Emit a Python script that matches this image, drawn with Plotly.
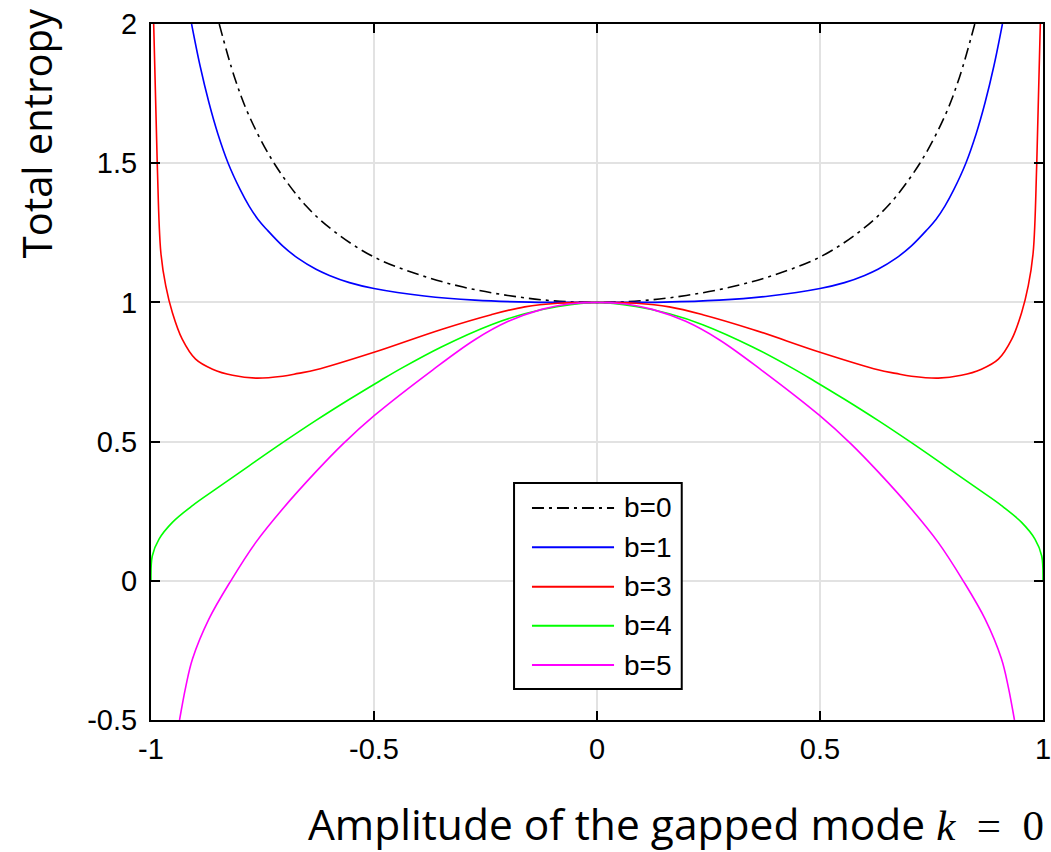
import plotly.graph_objects as go

# Total entropy versus amplitude of the gapped k = 0 mode, one curve per b
b0_x = [-0.847, -0.813, -0.78, -0.724, -0.652, -0.585, -0.5, -0.4, -0.3, -0.2, -0.1, 0.0,
        0.1, 0.2, 0.3, 0.4, 0.5, 0.585, 0.652, 0.724, 0.78, 0.813, 0.847]
b0_y = [2.0, 1.81, 1.67, 1.5, 1.346, 1.25, 1.163, 1.10, 1.055, 1.025, 1.006, 1.0,
        1.006, 1.025, 1.055, 1.10, 1.163, 1.25, 1.346, 1.5, 1.67, 1.81, 2.0]

b1_x = [-0.909, -0.89, -0.87, -0.85, -0.827, -0.8, -0.78, -0.76, -0.74, -0.705, -0.67, -0.63,
        -0.6, -0.555, -0.5, -0.387, -0.274, -0.15, 0.0,
        0.15, 0.274, 0.387, 0.5, 0.555, 0.6, 0.63, 0.67, 0.705, 0.74, 0.76, 0.78, 0.8, 0.827,
        0.85, 0.87, 0.89, 0.909]
b1_y = [2.0, 1.85, 1.717, 1.605, 1.5, 1.405, 1.346, 1.298, 1.261, 1.203, 1.158, 1.119,
        1.097, 1.071, 1.05, 1.023, 1.008, 1.001, 1.0,
        1.001, 1.008, 1.023, 1.05, 1.071, 1.097, 1.119, 1.158, 1.203, 1.261, 1.298, 1.346,
        1.405, 1.5, 1.605, 1.717, 1.85, 2.0]

b3_x = [-0.994, -0.986, -0.978, -0.967, -0.952, -0.93, -0.9, -0.862, -0.817, -0.765, -0.705,
        -0.67, -0.63, -0.5, -0.349, -0.237, -0.162, -0.088, 0.0,
        0.088, 0.162, 0.237, 0.349, 0.5, 0.63, 0.67, 0.705, 0.765, 0.817, 0.862, 0.9, 0.93,
        0.952, 0.967, 0.978, 0.986, 0.994]
b3_y = [2.0, 1.5, 1.18, 1.06, 0.963, 0.868, 0.796, 0.76, 0.738, 0.728, 0.735,
        0.745, 0.758, 0.821, 0.903, 0.956, 0.984, 0.997, 1.0,
        0.997, 0.984, 0.956, 0.903, 0.821, 0.758, 0.745, 0.735, 0.728, 0.738, 0.76, 0.796, 0.868,
        0.963, 1.06, 1.18, 1.5, 2.0]

b4_x = [-1.0, -0.997, -0.982, -0.952, -0.907, -0.855, -0.78, -0.705, -0.63, -0.555, -0.488,
        -0.439, -0.349, -0.237, -0.162, -0.087, 0.0,
        0.087, 0.162, 0.237, 0.349, 0.439, 0.488, 0.555, 0.63, 0.705, 0.78, 0.855, 0.907,
        0.952, 0.982, 0.997, 1.0]
b4_y = [0.0, 0.09, 0.15, 0.21, 0.27, 0.329, 0.413, 0.496, 0.576, 0.652, 0.717,
        0.763, 0.840, 0.920, 0.959, 0.985, 1.0,
        0.985, 0.959, 0.920, 0.840, 0.763, 0.717, 0.652, 0.576, 0.496, 0.413, 0.329, 0.27,
        0.21, 0.15, 0.09, 0.0]

b5_x = [-0.936, -0.922, -0.907, -0.87, -0.821, -0.765, -0.705, -0.63, -0.57, -0.499, -0.368,
        -0.274, -0.199, -0.124, -0.064, 0.0,
        0.064, 0.124, 0.199, 0.274, 0.368, 0.499, 0.57, 0.63, 0.705, 0.765, 0.821, 0.87,
        0.907, 0.922, 0.936]
b5_y = [-0.5, -0.38, -0.281, -0.137, 0.0, 0.138, 0.258, 0.392, 0.491, 0.594, 0.758,
        0.866, 0.932, 0.975, 0.994, 1.0,
        0.994, 0.975, 0.932, 0.866, 0.758, 0.594, 0.491, 0.392, 0.258, 0.138, 0.0, -0.137,
        -0.281, -0.38, -0.5]

series_names = ["b=0", "b=1", "b=3", "b=4", "b=5"]
series_colors = ["#000000", "#0000ff", "#ff0000", "#00ff00", "#ff00ff"]
series_dash = ["12px,5px,3px,5px", "solid", "solid", "solid", "solid"]
series_x = [b0_x, b1_x, b3_x, b4_x, b5_x]
series_y = [b0_y, b1_y, b3_y, b4_y, b5_y]

x_ticks = [-1, -0.5, 0, 0.5, 1]
x_ticktext = ["-1", "-0.5", "0", "0.5", "1"]
y_ticks = [-0.5, 0, 0.5, 1, 1.5, 2]
y_ticktext = ["-0.5", "0", "0.5", "1", "1.5", "2"]

fig = go.Figure()
for name, color, dash, xs, ys in zip(series_names, series_colors, series_dash, series_x, series_y):
    fig.add_trace(go.Scatter(
        x=xs, y=ys, mode="lines", name=name, showlegend=False,
        line=dict(color=color, width=1.6, dash=dash, shape="spline", smoothing=1.0),
    ))

# hand-built legend box with long line samples
box_x0, box_x1 = 0.407, 0.595
box_y0, box_y1 = 0.0445, 0.3405
row_y = [0.3046, 0.2481, 0.1915, 0.1355, 0.079]
shapes = [dict(type="rect", xref="paper", yref="paper", x0=box_x0, x1=box_x1,
               y0=box_y0, y1=box_y1, line=dict(color="black", width=2),
               fillcolor="white", layer="above")]
annotations = []
for name, color, dash, ry in zip(series_names, series_colors, series_dash, row_y):
    shapes.append(dict(type="line", xref="paper", yref="paper", x0=0.4271, x1=0.5191,
                       y0=ry, y1=ry, line=dict(color=color, width=2, dash=dash),
                       layer="above"))
    annotations.append(dict(xref="paper", yref="paper", x=0.528, y=ry, text=name,
                            showarrow=False, xanchor="left", yanchor="middle",
                            font=dict(family="Liberation Sans", size=28, color="black")))

annotations.append(dict(
    xref="paper", yref="paper", x=-0.129, y=0.843, text="Total entropy",
    textangle=-90, showarrow=False, xanchor="center", yanchor="middle",
    font=dict(family="Open Sans", size=40, color="black")))
annotations.append(dict(
    xref="paper", yref="paper", x=1.003, y=-0.149,
    text=("Amplitude of the gapped mode "
          "<span style='font-family:Liberation Serif;font-size:43px'>"
          "<i>k</i>&nbsp;&nbsp;=&nbsp;&nbsp;0</span>"),
    showarrow=False, xanchor="right", yanchor="middle",
    font=dict(family="Open Sans", size=42.5, color="black")))

axis_common = dict(
    showline=True, linecolor="black", linewidth=2, mirror="ticks",
    ticks="inside", ticklen=9, tickwidth=2, tickcolor="black",
    showgrid=True, gridcolor="#e2e2e2", gridwidth=2, zeroline=False,
    automargin=False, ticklabeloverflow="allow",
    tickfont=dict(family="Liberation Sans", size=29, color="black"),
)

fig.update_layout(
    width=1051, height=852,
    margin=dict(l=151, r=8, t=24, b=132),
    paper_bgcolor="white", plot_bgcolor="white",
    xaxis=dict(range=[-1, 1], tickvals=x_ticks, ticktext=x_ticktext,
               ticklabelstandoff=2, **axis_common),
    yaxis=dict(range=[-0.5, 2], tickvals=y_ticks, ticktext=y_ticktext,
               ticklabelstandoff=6, **axis_common),
    shapes=shapes, annotations=annotations,
)

fig.write_html("out.html")
